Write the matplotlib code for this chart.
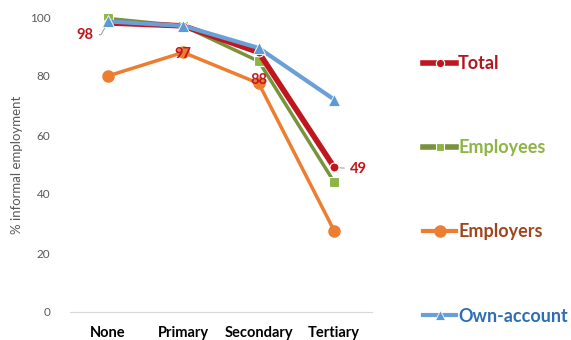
import matplotlib.pyplot as plt
from matplotlib.lines import Line2D

plt.rcParams["font.family"] = ["Lato", "DejaVu Sans"]

levels = ["None", "Primary", "Secondary", "Tertiary"]
total = [98, 97, 88, 49]
employees = [99.5, 97, 85, 44]
employers = [80, 88, 77.5, 27.5]
own_account = [98.5, 97, 89.5, 72]

fig = plt.figure(figsize=(5.71, 3.40), dpi=100)
ax = fig.add_axes([70 / 571, 1 - 312 / 340, 302 / 571, 295 / 340])

x = range(len(levels))
ax.plot(x, employers, color="#ED7D31", lw=2.5, marker="o", ms=8, clip_on=False, zorder=2)
ax.plot(x, employees, color="#77933C", lw=2.5, marker="s", ms=6.5, mfc="#8DB543",
        mec="white", mew=0.8, clip_on=False, zorder=3)
ax.plot(x, total, color="#C0161D", lw=4, marker="o", ms=6.5, mec="white", mew=0.8,
        clip_on=False, zorder=4)
ax.plot(x, own_account, color="#6A9FD8", lw=3, marker="^", ms=8, mfc="#5B9BD5",
        mec="white", mew=0.6, clip_on=False, zorder=5)

# value labels for the Total series
lab = dict(color="#C0161D", fontsize=10.5, fontweight="bold", ha="center", va="center")
ax.annotate(str(total[0]), xy=(0, total[0]), xytext=(-0.3, 94),
            arrowprops=dict(arrowstyle="-", color="#A6A6A6", lw=0.8,
                            connectionstyle="angle,angleA=0,angleB=60"), **lab)
ax.text(1, 87.5, str(total[1]), **lab)
ax.text(2, 78.5, str(total[2]), **lab)
ax.annotate(str(total[3]), xy=(3, total[3]), xytext=(3.32, total[3] - 0.5),
            arrowprops=dict(arrowstyle="-", color="#A6A6A6", lw=0.8), **lab)

ax.set_xlim(-0.5, 3.5)
ax.set_ylim(0, 100)
ax.set_yticks(range(0, 101, 20))
ax.set_xticks(list(x))
ax.set_xticklabels(levels, fontweight="bold", fontsize=10.5)
ax.tick_params(axis="y", length=0, pad=14, labelsize=8.5, labelcolor="#595959")
ax.tick_params(axis="x", length=0, pad=10)
for side in ["top", "right", "left"]:
    ax.spines[side].set_visible(False)
ax.spines["bottom"].set_color("#D9D9D9")
ax.set_ylabel("% informal employment", fontsize=9.5, color="#595959", labelpad=5)

handles = [
    Line2D([], [], color="#C0161D", lw=4, marker="o", ms=6, mec="white", mew=0.8),
    Line2D([], [], color="#77933C", lw=4, marker="s", ms=6, mfc="#8DB543", mec="white", mew=0.8),
    Line2D([], [], color="#ED7D31", lw=3, marker="o", ms=8),
    Line2D([], [], color="#6A9FD8", lw=3, marker="^", ms=7, mfc="#5B9BD5", mec="white", mew=0.6),
]
names = ["Total", "Employees", "Employers", "Own-account"]
fig.legend(handles, names, loc="upper left", bbox_to_anchor=(414 / 571, 1 - 46 / 340),
           frameon=False, handlelength=1.85, handletextpad=0.1, labelspacing=3.72,
           borderpad=0, labelcolor=["#B0171F", "#8DB543", "#A0461E", "#2E6EB5"],
           prop=dict(weight="bold", size=13))

fig.savefig("out.png", dpi=100)
